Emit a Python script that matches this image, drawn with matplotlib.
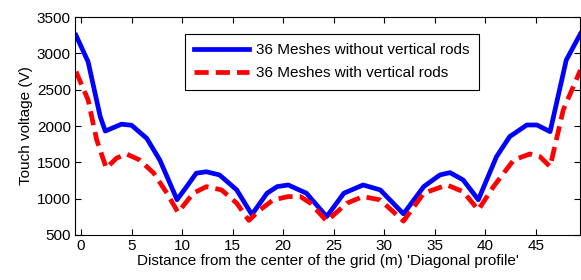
import matplotlib
matplotlib.use('Agg')
import matplotlib.pyplot as plt

plt.rcParams['font.family'] = ['Liberation Sans', 'DejaVu Sans']

# distance along the diagonal (m)
x_no_rods = [-0.5, 0.7, 1.9, 2.4, 4.0, 5.0, 6.5, 7.8, 9.5, 10.45, 11.4, 12.4, 13.7,
             15.4, 16.9, 18.4, 19.4, 20.5, 22.3, 24.3, 26.0, 27.9, 29.6, 31.9,
             33.9, 35.5, 36.5, 37.8, 39.3, 41.1, 42.4, 44.1, 45.1, 46.4, 48.0, 49.4]
v_no_rods = [3250, 2885, 2130, 1930, 2025, 2010, 1830, 1530, 985, 1165, 1350, 1370, 1326,
             1120, 780, 1074, 1165, 1188, 1074, 752, 1074, 1188, 1120, 790,
             1165, 1326, 1358, 1257, 985, 1578, 1853, 2014, 2014, 1922, 2908, 3270]

x_rods = [-0.5, 0.7, 1.55, 2.5, 3.5, 4.5, 5.8, 7.2, 8.5, 9.6, 11.1, 12.4, 13.9,
          15.4, 16.6, 17.7, 19.0, 20.5, 21.7, 22.7, 24.3, 26.3, 27.9, 29.6, 31.9,
          33.9, 36.2, 37.8, 39.3, 40.8, 42.8, 44.4, 45.4, 46.4, 47.7, 49.4]
v_rods = [2750, 2360, 1810, 1420, 1556, 1615, 1532, 1350, 1074, 810, 1074, 1165, 1120,
          937, 700, 844, 982, 1028, 1028, 937, 690, 937, 1028, 982, 690,
          1074, 1188, 1096, 844, 1165, 1532, 1615, 1578, 1440, 2220, 2770]

fig = plt.figure(figsize=(5.81, 2.8), dpi=100)
ax = fig.add_axes([0.129, 0.161, 0.87, 0.778])

ax.plot(x_no_rods, v_no_rods, color='#0000ff', lw=3.4, label='36 Meshes without vertical rods')
ax.plot(x_rods, v_rods, color='#ff0000', lw=3.4, dashes=(3, 1.5),
        label='36 Meshes with vertical rods')

ax.set_xlim(-0.6, 49.4)
ax.set_ylim(500, 3500)
ax.set_xticks([0, 5, 10, 15, 20, 25, 30, 35, 40, 45])
ax.set_yticks([500, 1000, 1500, 2000, 2500, 3000, 3500])
ax.tick_params(direction='in', top=True, right=True, labelsize=11, length=4, width=0.8, pad=3)
for s in ax.spines.values():
    s.set_linewidth(0.8)

ax.set_xlabel("Distance from the center of the grid (m) 'Diagonal profile'", fontsize=11, labelpad=1)
ax.set_ylabel('Touch voltage (V)', fontsize=11, labelpad=3)

leg = ax.legend(loc='upper left', bbox_to_anchor=(0.217, 0.922), borderaxespad=0,
                fancybox=False, framealpha=1, edgecolor='black', fontsize=11,
                handlelength=3.6, handletextpad=0.5, borderpad=0.6, labelspacing=0.6)
leg.get_frame().set_linewidth(0.8)

fig.savefig('out.png', dpi=100)
